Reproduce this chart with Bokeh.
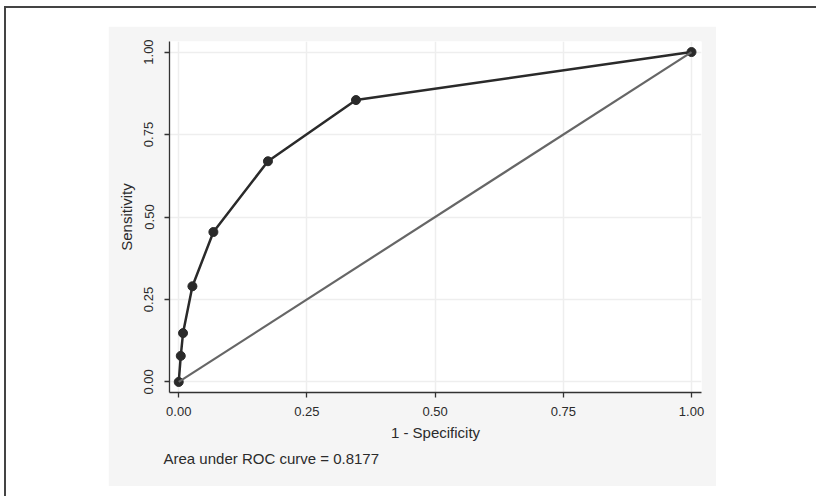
from bokeh.plotting import figure
from bokeh.models import Range1d, Title, NumeralTickFormatter, FixedTicker
from bokeh.layouts import column
from bokeh.embed import file_html
from bokeh.resources import INLINE

# ---- data ----
fpr = [0.0, 0.004, 0.0084, 0.0267, 0.0676, 0.174, 0.3457, 1.0]
tpr = [0.0, 0.079, 0.148, 0.290, 0.4545, 0.669, 0.8545, 1.0]
ref_x = [0.0, 1.0]
ref_y = [0.0, 1.0]
ticks = [0.0, 0.25, 0.5, 0.75, 1.0]
x_title = "1 - Specificity"
y_title = "Sensitivity"
auc_text = "Area under ROC curve = 0.8177"

FONT = "Liberation Sans"
TXT = "#2b2b2b"
AX = "#333333"

p = figure(width=608, height=460,
           x_range=Range1d(-0.018, 1.0195), y_range=Range1d(-0.032, 1.032),
           output_backend="svg", toolbar_location=None,
           min_border_left=61, min_border_right=15, min_border_top=15, min_border_bottom=94,
           border_fill_color="#f5f5f5", background_fill_color="white",
           outline_line_color=None)

for ax in (p.xaxis, p.yaxis):
    ax.ticker = FixedTicker(ticks=ticks)
    ax.formatter = NumeralTickFormatter(format="0.00")
    ax.minor_tick_line_color = None
    ax.major_tick_in = 0
    ax.major_tick_out = 5
    ax.axis_line_color = AX
    ax.axis_line_width = 1.3
    ax.major_tick_line_color = AX
    ax.major_tick_line_width = 1.3
    ax.major_label_text_font = FONT
    ax.major_label_text_font_size = "13px"
    ax.major_label_text_color = TXT
    ax.axis_label_text_font = FONT
    ax.axis_label_text_font_size = "15px"
    ax.axis_label_text_font_style = "normal"
    ax.axis_label_text_color = TXT

p.xaxis.axis_label = x_title
p.yaxis.axis_label = y_title
p.yaxis.major_label_orientation = "vertical"
p.xaxis.major_label_standoff = 9
p.yaxis.major_label_standoff = 11
p.xaxis.axis_label_standoff = 5
p.yaxis.axis_label_standoff = 7

p.grid.ticker = FixedTicker(ticks=ticks)
p.grid.grid_line_color = "#eeeeee"
p.grid.grid_line_width = 1.5

p.line(fpr, tpr, line_color="#2a2a2a", line_width=2.5)
p.scatter(fpr, tpr, size=9, fill_color="#2a2a2a", line_color="#2a2a2a")
p.line(ref_x, ref_y, line_color="#666666", line_width=2.2)

p.add_layout(Title(text=auc_text, align="left", offset=-6, standoff=8,
                   text_font=FONT, text_font_size="15px", text_font_style="normal",
                   text_color=TXT), "below")

p.margin = (18, 0, 0, 102)

page = column(p, width=812, height=490, margin=(6, 0, 0, 4),
              styles={"border-top": "2px solid #444444", "border-left": "2px solid #444444",
                      "background": "white"})

open("out.html", "w").write(file_html(page, INLINE))
